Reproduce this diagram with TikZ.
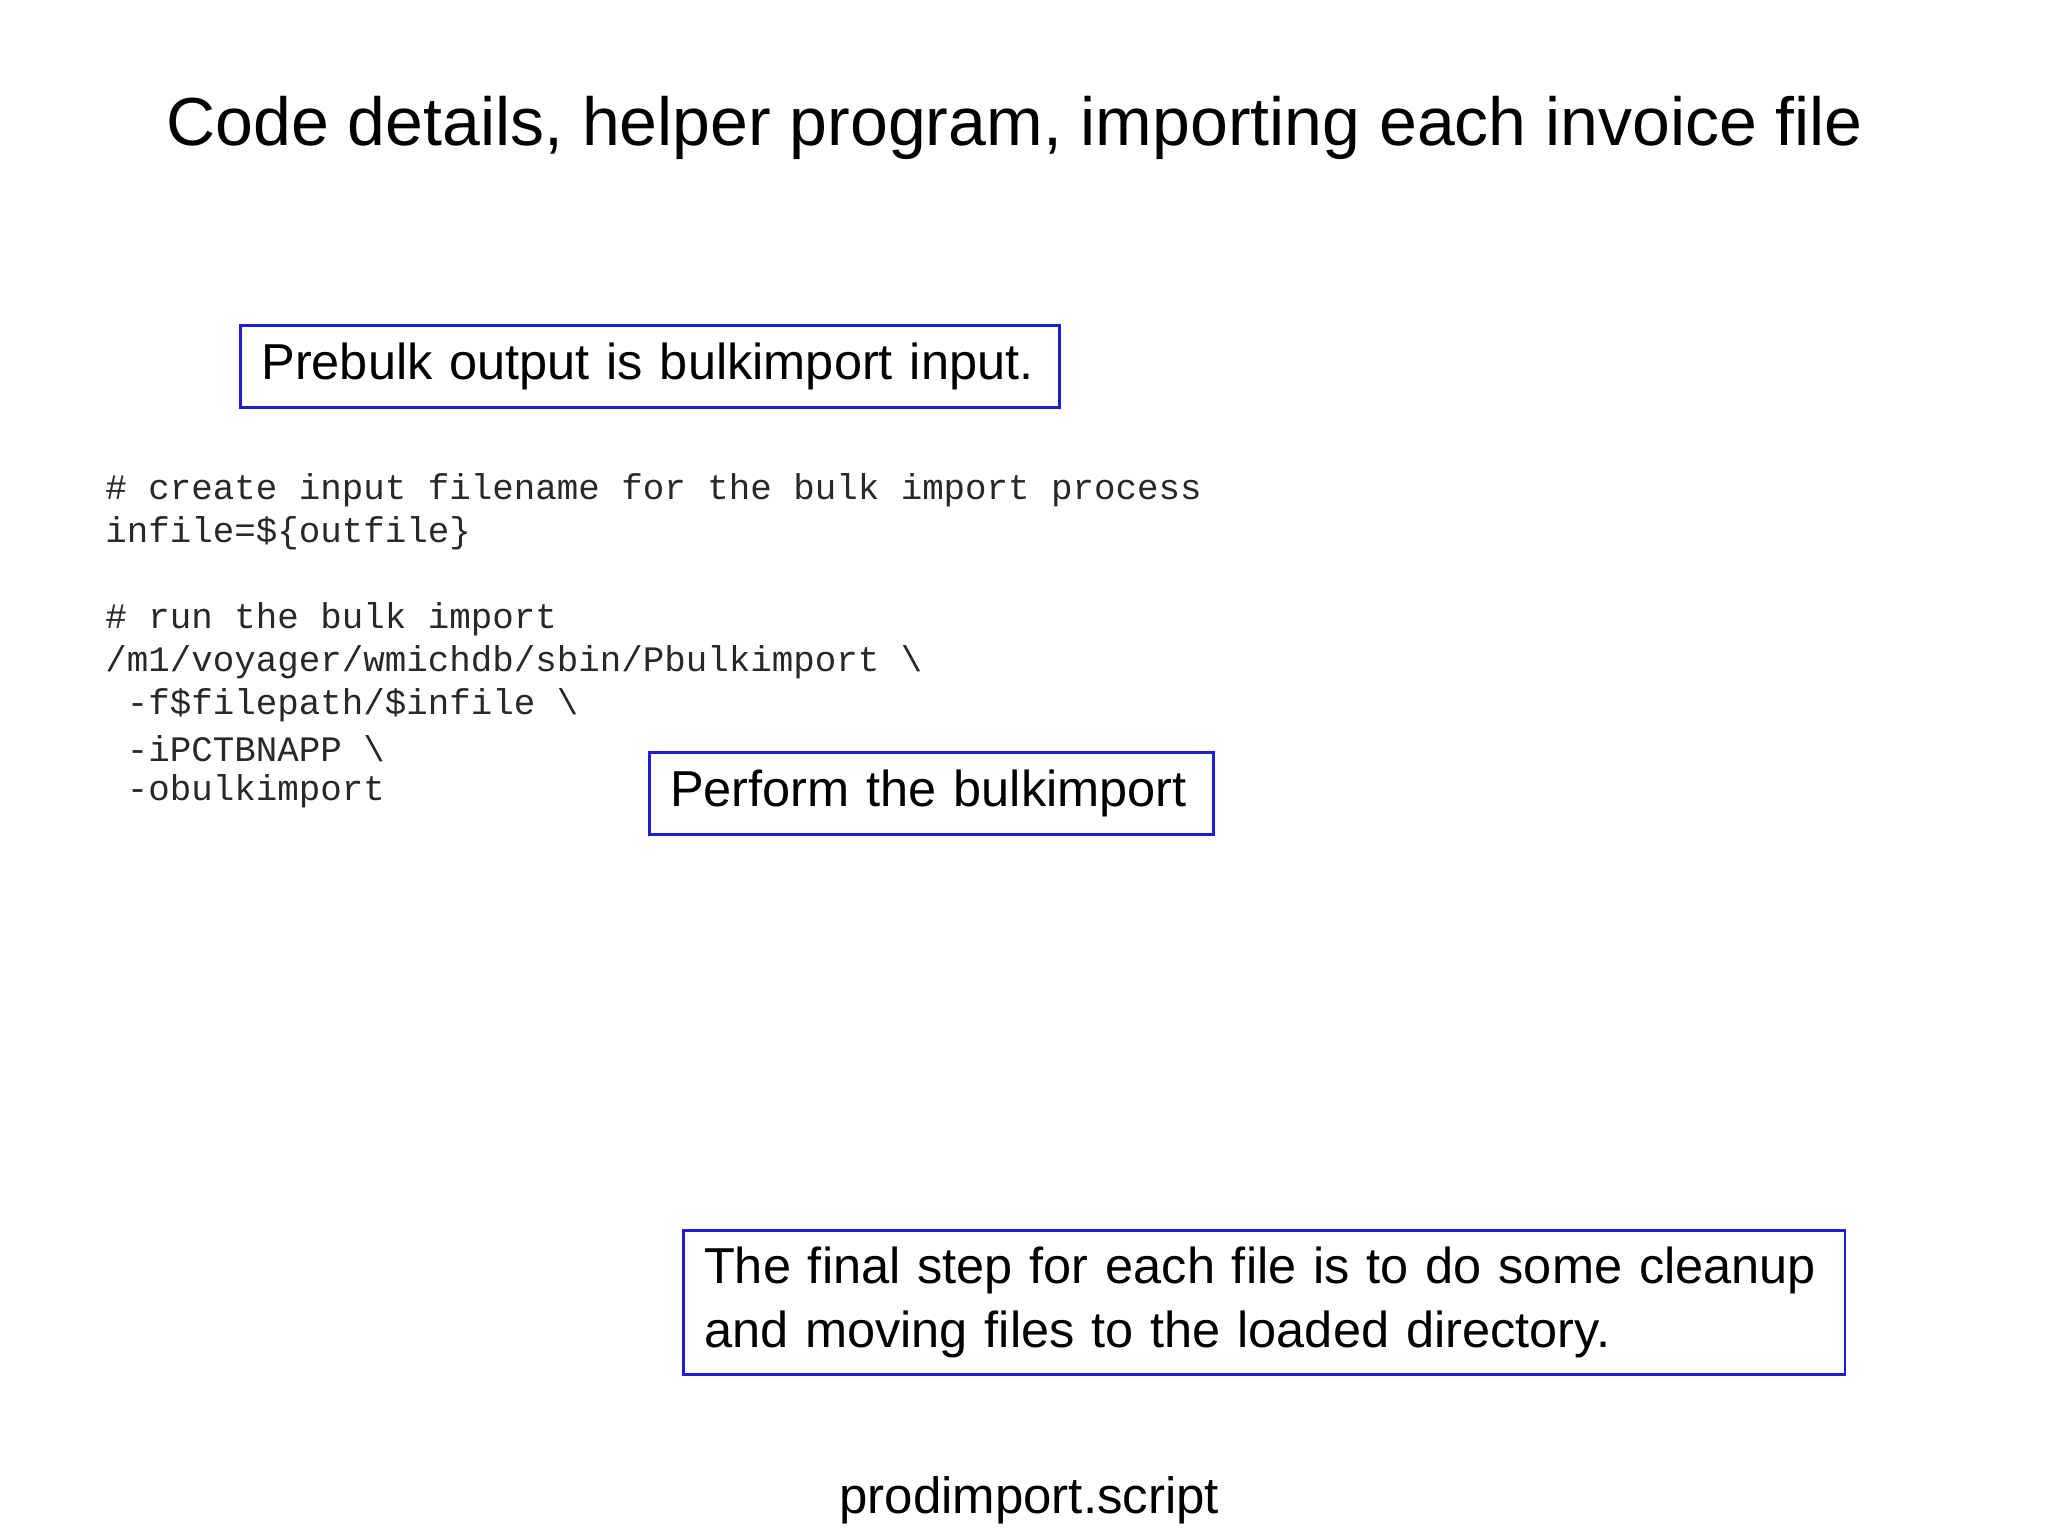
\documentclass[tikz,border=0pt]{standalone}
\usepackage{fontspec}
\setmainfont{Liberation Sans}
\setmonofont{Liberation Mono}
\definecolor{boxblue}{RGB}{30,30,215}
\definecolor{codegray}{RGB}{40,40,40}
\begin{document}
\begin{tikzpicture}[x=0.01cm,y=-0.01cm,
  callout/.style={draw=boxblue,line width=0.6pt,anchor=north west,inner xsep=0.16cm,inner ysep=0.1cm,align=left,font=\fontsize{11pt}{13.8pt}\selectfont},
  codeline/.style={anchor=west,inner sep=0pt,text=codegray,font=\fontsize{7.8pt}{9pt}\ttfamily}]
\useasboundingbox (0,0) rectangle (1568,1176);
\node (title) at (777,98) {\fontsize{14.8pt}{17pt}\selectfont Code details, helper program, importing each invoice file};
\node[callout,text width=5.95cm,minimum height=0.63cm] (b1) at (183,248) {Prebulk output is bulkimport input.};
\node[callout,text width=4.0cm,minimum height=0.63cm] (b2) at (496,575) {Perform the bulkimport};
\node[callout,minimum height=1.1cm,text width=8.57cm] (b3) at (522,941) {The final step for each file is to do some cleanup\\and moving files to the loaded directory.};
\node[codeline] (c1) at (80,375) {\# create input filename for the bulk import process};
\node[codeline] (c2) at (80,408) {infile=\$\{outfile\}};
\node[codeline] (c3) at (80,474) {\# run the bulk import};
\node[codeline] (c4) at (80,507) {/m1/voyager/wmichdb/sbin/Pbulkimport \textbackslash};
\node[codeline] (c5) at (80,540) {~-f\$filepath/\$infile \textbackslash};
\node[codeline] (c6) at (80,573) {~-iPCTBNAPP \textbackslash};
\node[codeline] (c7) at (80,606) {~-obulkimport};
\node (foot) at (788,1149) {\fontsize{11.1pt}{13pt}\selectfont prodimport.script};
\end{tikzpicture}
\end{document}
